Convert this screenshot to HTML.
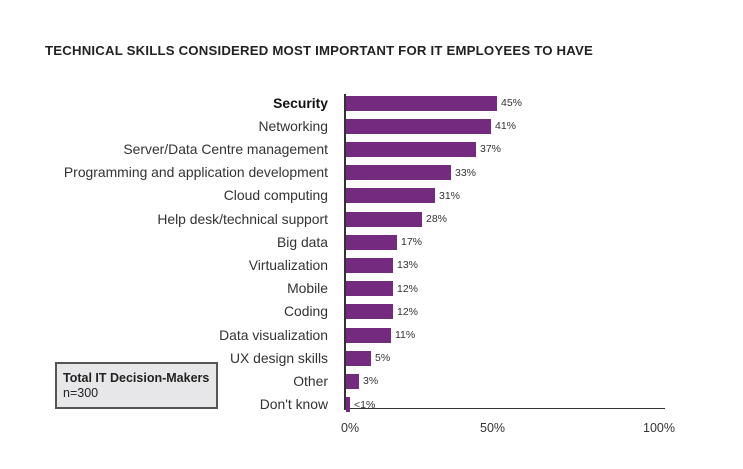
<!DOCTYPE html>
<html><head><style>
body{margin:0;background:#fff;font-family:"Liberation Sans",sans-serif;}
.c{position:relative;width:743px;height:469px;overflow:hidden;}
.t{position:absolute;left:45px;top:43px;font-size:13.2px;font-weight:bold;color:#222;letter-spacing:0.2px;}
.l{position:absolute;right:415px;font-size:13.9px;color:#333;white-space:nowrap;}
.b{position:absolute;left:346px;height:15px;background:#742a7e;}
.v{position:absolute;font-size:10.5px;color:#333;}
.ax{position:absolute;background:#333;}
.x{position:absolute;top:421px;font-size:12.5px;color:#333;}
.box{position:absolute;left:55px;top:362px;width:163px;height:47px;background:#e7e7e9;border:2px solid #555;box-sizing:border-box;padding:7px 6px;font-size:12.5px;color:#222;line-height:15px;white-space:nowrap;}
</style></head><body><div class="c">
<div class="t">TECHNICAL SKILLS CONSIDERED MOST IMPORTANT FOR IT EMPLOYEES TO HAVE</div>
<div class="ax" style="left:344px;top:94px;width:2px;height:316px"></div>
<div class="ax" style="left:344px;top:408px;width:321px;height:1px"></div>
<div id="rows"></div>
<div class="x" style="left:341px">0%</div>
<div class="x" style="left:480px">50%</div>
<div class="x" style="left:643px">100%</div>
<div class="box"><b>Total IT Decision-Makers</b><br>n=300</div>
</div>
<script>
var d=[["Security",497,"45%",1],["Networking",491,"41%"],["Server/Data Centre management",476,"37%"],["Programming and application development",451,"33%"],["Cloud computing",435,"31%"],["Help desk/technical support",422,"28%"],["Big data",397,"17%"],["Virtualization",393,"13%"],["Mobile",393,"12%"],["Coding",393,"12%"],["Data visualization",391,"11%"],["UX design skills",371,"5%"],["Other",359,"3%"],["Don't know",350,"<1%"]];
var h="";d.forEach(function(r,i){var cy=103+i*23.2;
h+='<div class="l" style="top:'+(cy-8.5)+'px;'+(r[3]?'font-weight:bold;color:#111':'')+'">'+r[0].replace("<","&lt;")+'</div>';
h+='<div class="b" style="top:'+(cy-7.5)+'px;width:'+(r[1]-346)+'px"></div>';
h+='<div class="v" style="left:'+(r[1]+4)+'px;top:'+(cy-6)+'px">'+r[2].replace("<","&lt;")+'</div>';});
document.getElementById("rows").innerHTML=h;
</script>
</body></html>
